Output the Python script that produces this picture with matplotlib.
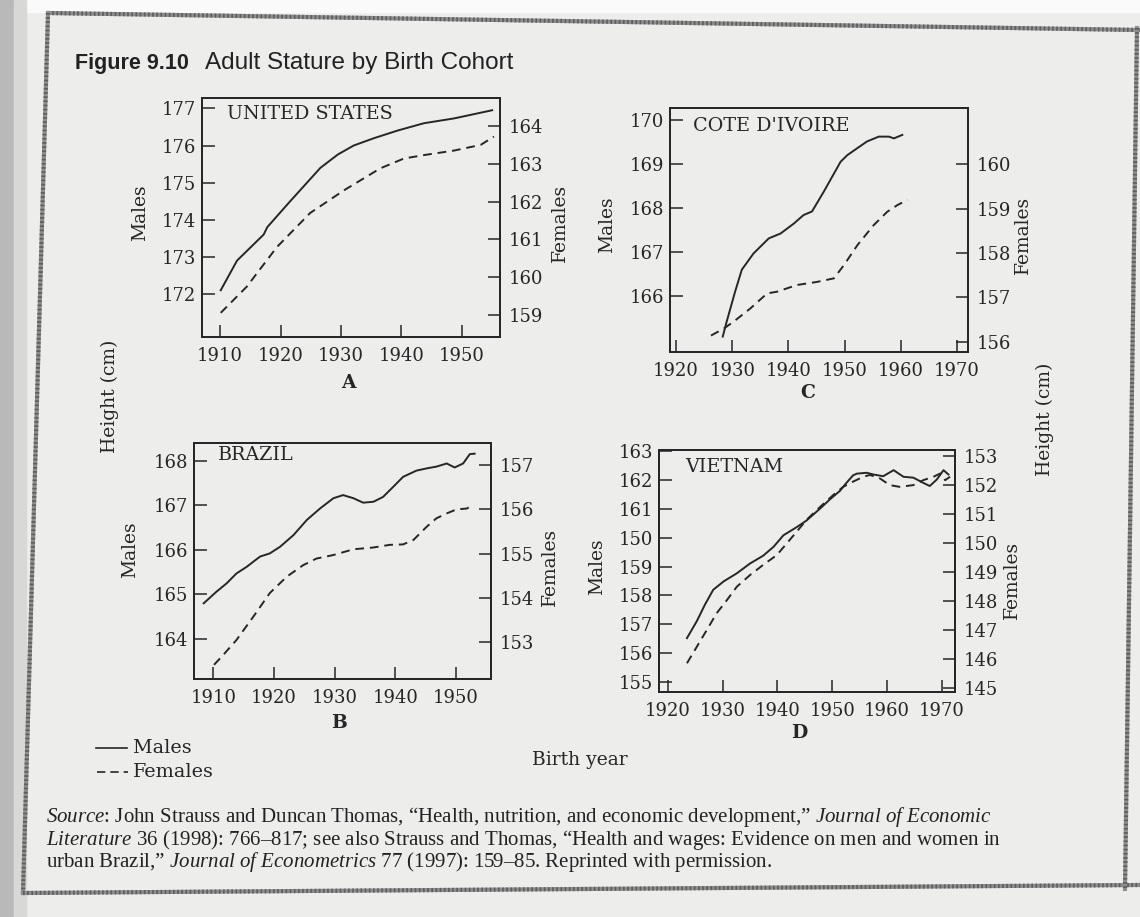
import matplotlib
matplotlib.use("Agg")
import matplotlib.pyplot as plt
from matplotlib import font_manager
from matplotlib.lines import Line2D
from matplotlib.patches import Rectangle

W, H = 1140, 917

# ---- data ----
us_male_year = [1910.1, 1912.8, 1915.0, 1917.2, 1917.8, 1921.6, 1926.6, 1929.5,
                1932.1, 1935.5, 1939.3, 1943.7, 1948.7, 1955.0]
us_male = [172.1, 172.9, 173.25, 173.6, 173.8, 174.5, 175.4, 175.76,
           176.0, 176.2, 176.4, 176.6, 176.73, 176.95]
us_female_year = [1910.1, 1914.4, 1919.4, 1924.9, 1930.5, 1936.5, 1940.4,
                  1943.7, 1948.7, 1953.1, 1955.3]
us_female = [159.06, 159.75, 160.8, 161.7, 162.3, 162.88, 163.14,
             163.23, 163.35, 163.5, 163.72]

ci_male_year = [1928.3, 1929.0, 1930.5, 1931.7, 1933.8, 1936.5, 1938.6, 1941.0,
                1942.7, 1944.2, 1946.3, 1949.3, 1950.5, 1952.3, 1954.0, 1956.1,
                1957.9, 1958.8, 1960.3]
ci_male = [165.08, 165.42, 166.1, 166.6, 166.97, 167.31, 167.42, 167.65,
           167.84, 167.92, 168.37, 169.05, 169.2, 169.36, 169.51, 169.62,
           169.62, 169.58, 169.66]
ci_female_year = [1926.2, 1928.5, 1930.2, 1933.2, 1936.2, 1938.0, 1941.5, 1945.1,
                  1948.1, 1949.9, 1952.3, 1955.2, 1957.6, 1959.4, 1961.2]
ci_female = [156.14, 156.30, 156.45, 156.75, 157.09, 157.13, 157.28, 157.35,
             157.43, 157.73, 158.18, 158.63, 158.93, 159.08, 159.2]

br_male_year = [1908.4, 1910.5, 1912.2, 1913.8, 1915.5, 1917.7, 1919.3, 1921.0,
                1923.2, 1925.4, 1927.6, 1929.8, 1931.4, 1933.1, 1934.7, 1936.4,
                1938.0, 1939.7, 1941.3, 1943.5, 1945.2, 1946.8, 1948.5, 1949.8,
                1951.2, 1952.3, 1953.1]
br_male = [164.80, 165.06, 165.25, 165.47, 165.62, 165.85, 165.92, 166.07,
           166.33, 166.67, 166.93, 167.16, 167.23, 167.16, 167.06, 167.08,
           167.19, 167.42, 167.64, 167.78, 167.83, 167.87, 167.94, 167.85,
           167.94, 168.15, 168.16]
br_female_year = [1910.1, 1911.6, 1913.8, 1916.6, 1919.3, 1922.1, 1924.8, 1927.0,
                  1929.8, 1933.1, 1936.4, 1939.1, 1941.3, 1943.0, 1945.2, 1946.8,
                  1948.5, 1950.1, 1951.8, 1952.9]
br_female = [152.49, 152.71, 153.05, 153.58, 154.11, 154.48, 154.74, 154.89,
             154.97, 155.10, 155.14, 155.20, 155.21, 155.31, 155.61, 155.80,
             155.91, 156.0, 156.02, 156.1]

vn_male_year = [1923.5, 1925.3, 1926.8, 1928.3, 1930.2, 1932.6, 1935.0, 1937.4,
                1939.3, 1941.1, 1943.5, 1945.3, 1947.8, 1949.6, 1951.4, 1952.6,
                1953.8, 1954.5, 1956.3, 1957.5, 1959.3, 1961.2, 1963.0, 1964.8,
                1966.6, 1967.8, 1969.1, 1970.3, 1971.2]
vn_male = [156.52, 157.11, 157.69, 158.2, 158.49, 158.77, 159.11, 159.38,
           159.69, 160.09, 160.37, 160.6, 161.02, 161.34, 161.63, 161.91,
           162.17, 162.23, 162.26, 162.2, 162.14, 162.35, 162.12, 162.09,
           161.91, 161.8, 162.03, 162.35, 162.2]
vn_female_year = [1923.5, 1925.3, 1927.1, 1928.9, 1930.8, 1932.6, 1935.0, 1937.4,
                  1939.9, 1941.7, 1943.5, 1945.3, 1947.8, 1950.2, 1952.0, 1953.8,
                  1955.7, 1956.9, 1958.7, 1960.5, 1962.3, 1964.8, 1966.6, 1968.5,
                  1969.7, 1970.6, 1971.5]
vn_female = [145.86, 146.43, 147.0, 147.58, 148.04, 148.5, 148.9, 149.25,
             149.59, 149.99, 150.39, 150.8, 151.25, 151.66, 151.94, 152.12,
             152.29, 152.35, 152.23, 152.0, 151.94, 152.0, 152.17, 152.29,
             152.4, 152.17, 152.29]

# tick labels as printed (the Vietnam panel has "150" where 160 belongs)
us_left_ticks = [172, 173, 174, 175, 176, 177]
us_right_ticks = [159, 160, 161, 162, 163, 164]
ci_left_ticks = [166, 167, 168, 169, 170]
ci_right_ticks = [156, 157, 158, 159, 160]
br_left_ticks = [164, 165, 166, 167, 168]
br_right_ticks = [153, 154, 155, 156, 157]
vn_left_ticks = [155, 156, 157, 158, 159, 160, 161, 162, 163]
vn_left_labels = ["155", "156", "157", "158", "159", "150", "161", "162", "163"]
vn_right_ticks = [145, 146, 147, 148, 149, 150, 151, 152, 153]
early_years = [1910, 1920, 1930, 1940, 1950]
late_years = [1920, 1930, 1940, 1950, 1960, 1970]

INK = "#262626"
SERIF = "DejaVu Serif"

names = {f.name for f in font_manager.fontManager.ttflist}
NARROW = "Liberation Sans Narrow" in names
HEAD = "Liberation Sans Narrow" if NARROW else "Liberation Sans"
head_size = 21 if NARROW else 17.5
fig_no_size = 19 if NARROW else 15.5

plt.rcParams["mathtext.fontset"] = "custom"
plt.rcParams["mathtext.rm"] = "Liberation Serif"
plt.rcParams["mathtext.it"] = "Liberation Serif:italic"


def fx(x):
    return x / W


def fy(y):
    return 1 - y / H


def panel(fig, box, xlim, ylim_l, ylim_r, xticks, lticks, rticks,
          male_x, male_y, fem_x, fem_y, lt_labels=None):

    l, t, r, b = box
    ax = fig.add_axes([fx(l), fy(b), (r - l) / W, (b - t) / H])
    ax.set_facecolor("none")

    ax.plot(male_x, male_y, color=INK, lw=1.4)
    ax.set_xlim(*xlim)
    ax.set_ylim(*ylim_l)
    ax.set_xticks(xticks)
    ax.set_yticks(lticks)
    if lt_labels is not None:
        ax.set_yticklabels(lt_labels)

    ax2 = ax.twinx()
    ax2.plot(fem_x, fem_y, color=INK, lw=1.4, linestyle=(0, (4.5, 3)))
    ax2.set_ylim(*ylim_r)
    ax2.set_yticks(rticks)

    for a in (ax, ax2):
        for s in a.spines.values():
            s.set_color(INK)
            s.set_linewidth(1.3)
        a.tick_params(direction="in", length=9, width=1.1, color=INK,
                      labelsize=13, labelcolor=INK)
        for lab in a.get_xticklabels() + a.get_yticklabels():
            lab.set_family(SERIF)

    ax.tick_params(axis="y", pad=4)
    ax.tick_params(axis="x", pad=7)
    ax2.tick_params(axis="y", pad=6)

    return ax, ax2


fig = plt.figure(figsize=(W / 100, H / 100), dpi=100)
fig.patch.set_facecolor("#ededeb")

# page edges of the scan
fig.add_artist(Rectangle((0, fy(12)), 1, 12 / H, transform=fig.transFigure,
                         color="#fafafa", zorder=0))
fig.add_artist(Rectangle((0, 0), fx(14), 1, transform=fig.transFigure,
                         color="#b9b9b9", zorder=0))
fig.add_artist(Rectangle((fx(14), 0), fx(12), 1, transform=fig.transFigure,
                         color="#d8d8d6", zorder=0))

frame = [((48, 13), (1140, 30)), ((48, 13), (23, 893)),
         ((23, 893), (1140, 885)), ((1137, 28), (1125, 889))]
for (x0, y0), (x1, y1) in frame:
    fig.add_artist(Line2D([fx(x0), fx(x1)], [fy(y0), fy(y1)],
                          transform=fig.transFigure, color="#8e8e8e", lw=3))
    fig.add_artist(Line2D([fx(x0), fx(x1)], [fy(y0), fy(y1)],
                          transform=fig.transFigure, color="#5e5e5e", lw=3,
                          linestyle=(0, (0.4, 0.6))))

# title
fig.text(fx(75), fy(63), "Figure 9.10", family=HEAD, weight="bold",
         size=fig_no_size, color="#222222", va="center", ha="left")
fig.text(fx(205), fy(63), "Adult Stature by Birth Cohort", family=HEAD,
         size=head_size, color="#222222", va="center", ha="left")

panel(fig, (202, 98, 500, 337), (1907.0, 1956.3), (170.84, 177.28),
      (158.42, 164.74), early_years, us_left_ticks, us_right_ticks,
      us_male_year, us_male, us_female_year, us_female)
panel(fig, (670, 108, 968, 352), (1918.9, 1972.0), (164.73, 170.27),
      (155.77, 161.27), late_years, ci_left_ticks, ci_right_ticks,
      ci_male_year, ci_male, ci_female_year, ci_female)
panel(fig, (194, 443, 491, 679), (1906.8, 1955.8), (163.10, 168.40),
      (152.17, 157.50), early_years, br_left_ticks, br_right_ticks,
      br_male_year, br_male, br_female_year, br_female)
panel(fig, (659, 450, 955, 692), (1918.4, 1972.4), (154.65, 163.05),
      (144.87, 153.21), late_years, vn_left_ticks, vn_right_ticks,
      vn_male_year, vn_male, vn_female_year, vn_female,
      lt_labels=vn_left_labels)

serif_kw = dict(family=SERIF, color=INK, va="center")

# country names
for x, y, name in [(227, 114, "UNITED STATES"), (693, 126, "COTE D'IVOIRE"),
                   (218, 455, "BRAZIL"), (685, 467, "VIETNAM")]:
    fig.text(fx(x), fy(y), name, size=13.8, ha="left", **serif_kw)

# panel letters
for x, y, letter in [(348, 383, "A"), (808, 393, "C"),
                     (339, 723, "B"), (799, 733, "D")]:
    fig.text(fx(x), fy(y), letter, size=13.5, weight="bold", ha="center",
             **serif_kw)

# side labels
for x, y, lab in [(140, 213, "Males"), (560, 223, "Females"),
                  (607, 225, "Males"), (1023, 235, "Females"),
                  (130, 550, "Males"), (550, 567, "Females"),
                  (597, 567, "Males"), (1012, 580, "Females"),
                  (110, 396, "Height (cm)"), (1045, 419, "Height (cm)")]:
    fig.text(fx(x), fy(y), lab, size=13.5, rotation=90, ha="center",
             **serif_kw)

fig.text(fx(580), fy(760), "Birth year", size=13.5, ha="center", **serif_kw)

# key
fig.add_artist(Line2D([fx(96), fx(127)], [fy(748), fy(748)],
                      transform=fig.transFigure, color=INK, lw=1.2))
fig.add_artist(Line2D([fx(97), fx(128)], [fy(772), fy(772)],
                      transform=fig.transFigure, color=INK, lw=1.2,
                      linestyle=(0, (5, 3))))
fig.text(fx(133), fy(748), "Males", size=13.8, ha="left", **serif_kw)
fig.text(fx(133), fy(772), "Females", size=13.8, ha="left", **serif_kw)

# source note
source_lines = [
    r"$\mathit{Source}$: John Strauss and Duncan Thomas, “Health, nutrition, "
    r"and economic development,” $\mathit{Journal\ of\ Economic}$",
    r"$\mathit{Literature}$ 36 (1998): 766–817; see also Strauss and Thomas, "
    r"“Health and wages: Evidence on men and women in",
    r"urban Brazil,” $\mathit{Journal\ of\ Econometrics}$ 77 (1997): 159–85. "
    r"Reprinted with permission.",
]
for y, line in zip([817, 840, 862], source_lines):
    fig.text(fx(46), fy(y), line, family="Liberation Serif", size=15,
             color="#222222", ha="left", va="center")

fig.savefig("out.png", dpi=100, facecolor=fig.get_facecolor())
